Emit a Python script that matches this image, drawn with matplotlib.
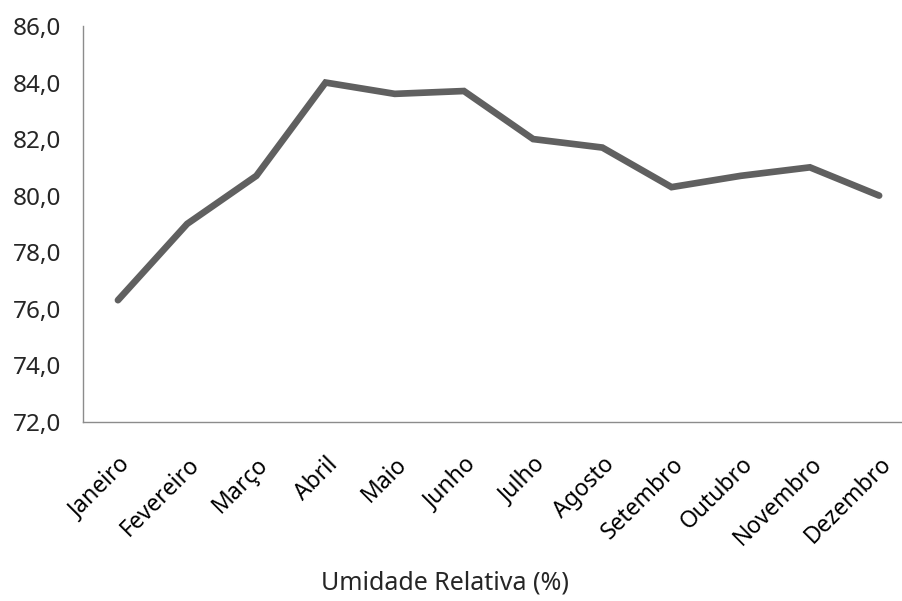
import matplotlib
matplotlib.use("Agg")
import matplotlib.pyplot as plt
from matplotlib.ticker import FuncFormatter

plt.rcParams["font.family"] = ["Noto Sans", "DejaVu Sans"]

meses = ["Janeiro", "Fevereiro", "Março", "Abril", "Maio", "Junho",
         "Julho", "Agosto", "Setembro", "Outubro", "Novembro", "Dezembro"]
umidade = [76.3, 79.0, 80.7, 84.0, 83.6, 83.7, 82.0, 81.7, 80.3, 80.7, 81.0, 80.0]

fig = plt.figure(figsize=(9.03, 6.01), dpi=100)
# axes runs a bit past the right edge, like the cropped original
ax = fig.add_axes([0.0923, 0.2983, 0.9196, 0.6584])

x = list(range(len(meses)))
ax.plot(x, umidade, color="#606060", linewidth=4.8, solid_capstyle="round",
        solid_joinstyle="miter")

ax.set_xlim(-0.5, len(meses) - 0.5)
ax.set_ylim(72, 86)
ax.set_yticks([72, 74, 76, 78, 80, 82, 84, 86])
ax.yaxis.set_major_formatter(FuncFormatter(lambda v, p: f"{v:.1f}".replace(".", ",")))
ax.set_xticks(x)
ax.set_xticklabels(meses, rotation=45, ha="right", rotation_mode="anchor")

for s in ["top", "right"]:
    ax.spines[s].set_visible(False)
for s in ["left", "bottom"]:
    ax.spines[s].set_color("#8c8c8c")
    ax.spines[s].set_linewidth(1.0)

ax.tick_params(axis="y", length=0, pad=16, labelsize=17.5, labelcolor="#262626")
ax.tick_params(axis="x", length=0, pad=22, labelsize=16.5, labelcolor="#000000")

fig.text(445 / 903, 1 - 583 / 601, "Umidade Relativa (%)", ha="center", va="center",
         fontsize=18, color="#262626")

fig.savefig("out.png", dpi=100)
